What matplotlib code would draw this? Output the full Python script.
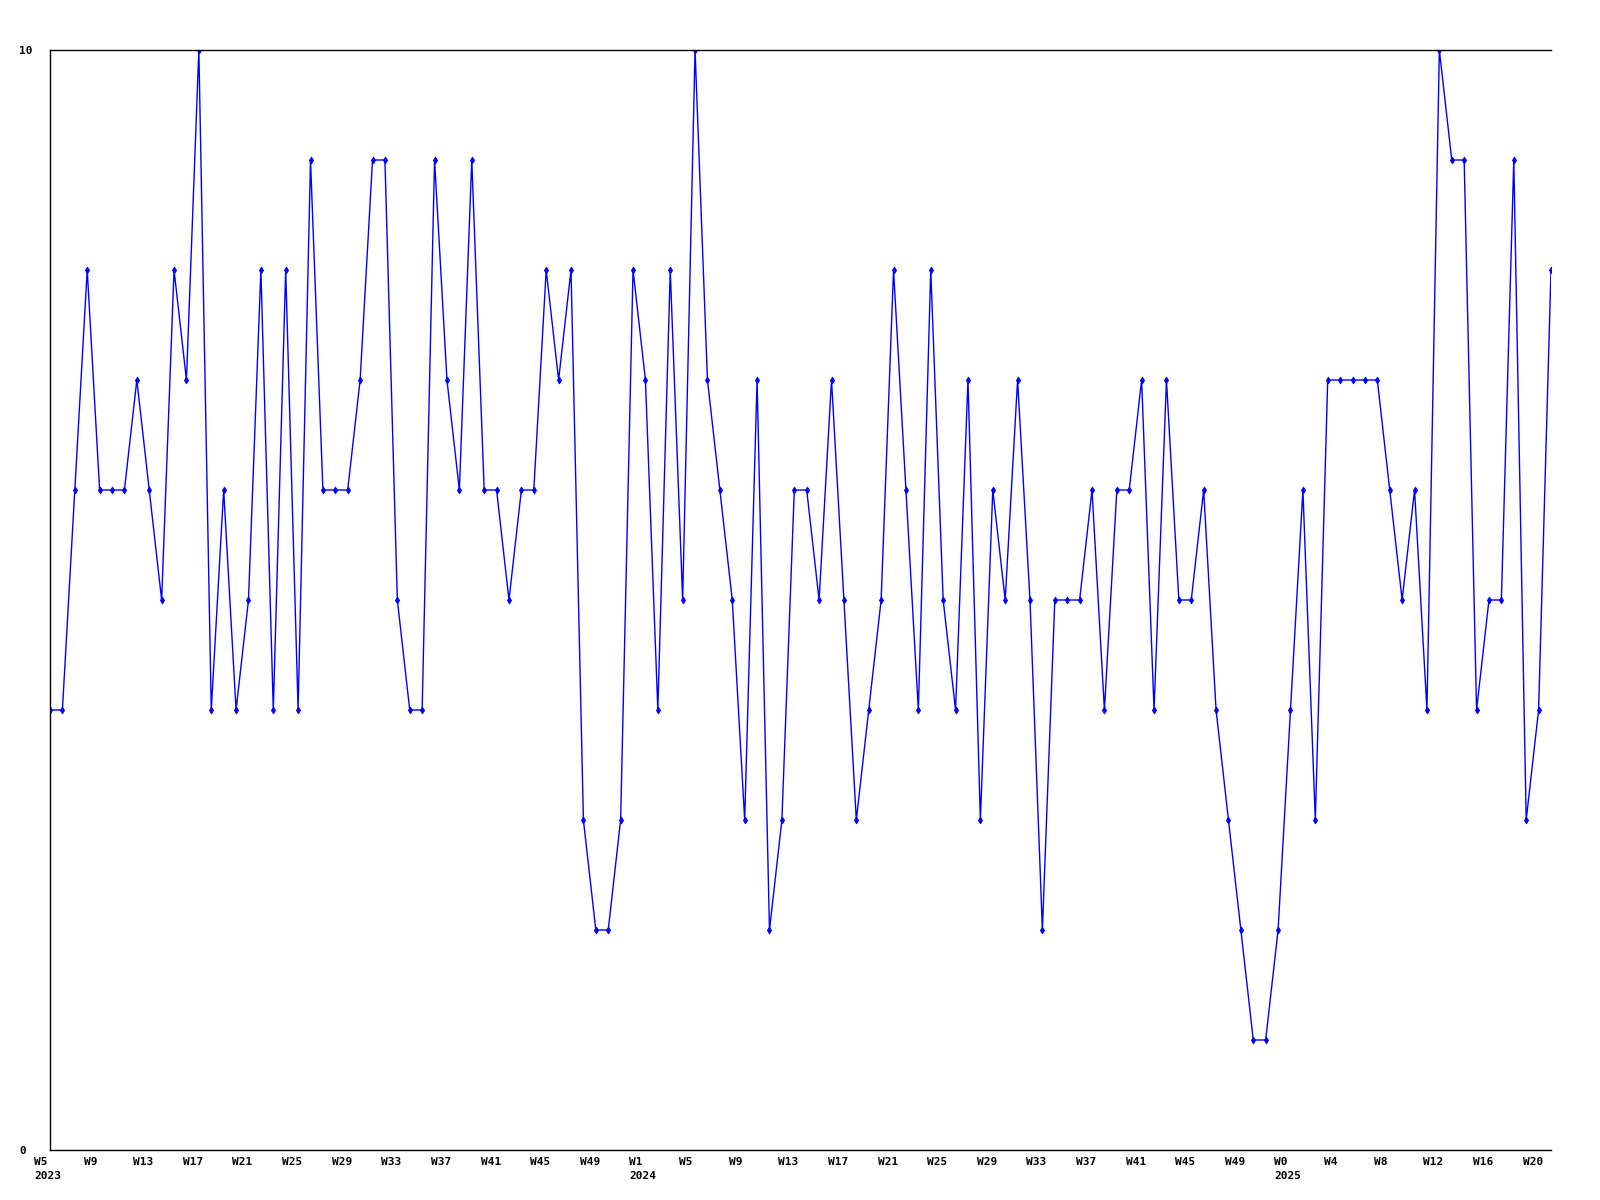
import matplotlib
matplotlib.use("Agg")
import matplotlib.pyplot as plt
import matplotlib.transforms as mtransforms
import numpy as np

# weekly scores, W5 2023 -> W21 2025
values = [4, 4, 6, 8, 6, 6, 6, 7, 6, 5, 8, 7, 10, 4, 6, 4, 5, 8, 4, 8,
          4, 9, 6, 6, 6, 7, 9, 9, 5, 4, 4, 9, 7, 6, 9, 6, 6, 5, 6, 6,
          8, 7, 8, 3, 2, 2, 3, 8, 7, 4, 8, 5, 10, 7, 6, 5, 3, 7, 2, 3,
          6, 6, 5, 7, 5, 3, 4, 5, 8, 6, 4, 8, 5, 4, 7, 3, 6, 5, 7, 5,
          2, 5, 5, 5, 6, 4, 6, 6, 7, 4, 7, 5, 5, 6, 4, 3, 2, 1, 1, 2,
          4, 6, 3, 7, 7, 7, 7, 7, 6, 5, 6, 4, 10, 9, 9, 4, 5, 5, 9, 3,
          4, 8]

week_labels = ["W5", "W9", "W13", "W17", "W21", "W25", "W29", "W33", "W37", "W41", "W45", "W49",
               "W1", "W5", "W9", "W13", "W17", "W21", "W25", "W29", "W33", "W37", "W41", "W45", "W49",
               "W0", "W4", "W8", "W12", "W16", "W20"]
year_labels = {0: "2023", 12: "2024", 25: "2025"}

x = np.arange(len(values))

fig = plt.figure(figsize=(16, 12), dpi=100)
ax = fig.add_axes([50 / 1600, 50 / 1200, 1501 / 1600, 1100 / 1200])

ax.plot(x, values, color="#0000ff", linewidth=1.0, marker="d", markersize=3.5,
        markeredgewidth=0.6)

for side in ["left", "top", "bottom"]:
    ax.spines[side].set_linewidth(1.0)
    ax.spines[side].set_color("black")
ax.spines["right"].set_visible(False)

# week labels every 4 weeks, year under the first week of each year
tick_pos = np.arange(0, len(values), 4)[:len(week_labels)]
labels = []
for k, w in enumerate(week_labels):
    if k in year_labels:
        labels.append(w + "\n" + year_labels[k])
    else:
        labels.append(w)
ax.set_xticks(tick_pos)
ax.set_xticklabels(labels, fontfamily="DejaVu Sans Mono", fontweight="bold",
                   fontsize=8, ha="left", va="top", linespacing=1.45)
ax.tick_params(axis="x", length=0, pad=5)
shift = mtransforms.ScaledTranslation(-0.16, 0, fig.dpi_scale_trans)
for lab in ax.get_xticklabels():
    lab.set_transform(lab.get_transform() + shift)

ax.set_yticks([0, 10])
ax.set_yticklabels(["0", "10"], fontfamily="DejaVu Sans Mono", fontweight="bold",
                   fontsize=8, ha="left")
ax.tick_params(axis="y", length=0, pad=22)

ax.set_xlim(0, len(values) - 1)
ax.set_ylim(0, 10)

fig.savefig("out.png", dpi=100)
